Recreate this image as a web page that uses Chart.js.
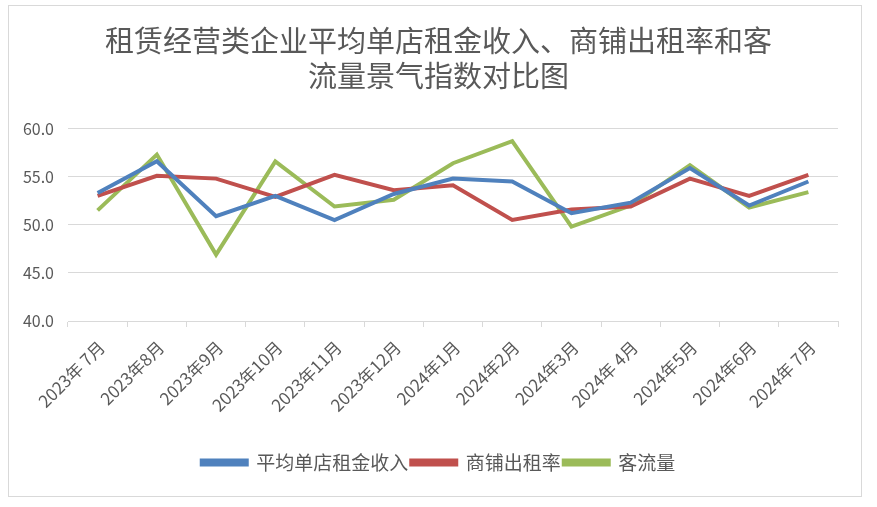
<!DOCTYPE html>
<html><head><meta charset="utf-8">
<script src="https://cdn.jsdelivr.net/npm/chart.js@4/dist/chart.umd.min.js"></script>
<style>html,body{margin:0;padding:0;background:#fff;}#wrap{position:relative;width:877px;height:507px;}</style>
</head><body><div id="wrap"><canvas id="c" width="877" height="507"></canvas></div>
<script>
const categories = ['2023年 7月','2023年8月','2023年9月','2023年10月','2023年11月','2023年12月','2024年1月','2024年2月','2024年3月','2024年 4月','2024年5月','2024年6月','2024年 7月'];
const rentIncome = [53.3,56.6,50.9,53.0,50.5,53.2,54.8,54.5,51.2,52.3,55.9,52.0,54.5];
const occupancy  = [53.0,55.1,54.8,52.9,55.2,53.6,54.1,50.5,51.6,51.9,54.8,53.0,55.2];
const traffic    = [51.5,57.3,46.9,56.6,51.9,52.6,56.4,58.7,49.8,52.0,56.2,51.8,53.4];
const seriesNames = ['平均单店租金收入','商铺出租率','客流量'];
const titleLines = ['租赁经营类企业平均单店租金收入、商铺出租率和客','流量景气指数对比图'];

const FONT = '"Noto Sans CJK SC","Noto Sans",sans-serif';
const frame = {
  id:'frame',
  beforeDraw(chart){const c=chart.ctx;c.save();c.fillStyle='#fff';c.fillRect(0,0,chart.width,chart.height);c.restore();},
  afterDraw(chart){const c=chart.ctx;c.save();c.strokeStyle='#D9D9D9';c.lineWidth=1;c.strokeRect(8.5,5.5,853,491);c.restore();}
};
function ds(label,data,color){return {label,data,borderColor:color,backgroundColor:color,borderWidth:4,pointRadius:0,tension:0,fill:false,yAxisID:'y'};}
new Chart(document.getElementById('c'),{
  type:'line',
  data:{labels:categories,datasets:[ds(seriesNames[0],rentIncome,'#4F81BD'),ds(seriesNames[1],occupancy,'#C0504D'),ds(seriesNames[2],traffic,'#9BBB59')]},
  options:{
    responsive:false,animation:false,
    layout:{padding:{left:0,right:0,top:0,bottom:25}},
    plugins:{
      title:{display:true,text:titleLines,color:'#595959',font:{family:FONT,size:29,weight:'normal',lineHeight:1.2},padding:{top:24,bottom:35}},
      legend:{position:'bottom',labels:{color:'#595959',font:{family:FONT,size:19},boxWidth:45,boxHeight:4,padding:3}},
      tooltip:{enabled:false}
    },
    scales:{
      x:{offset:true,
        grid:{offset:true,drawOnChartArea:false,drawTicks:true,tickLength:6,color:'#D9D9D9'},
        border:{display:true,color:'#D9D9D9'},
        ticks:{color:'#595959',font:{family:FONT,size:17},maxRotation:45,minRotation:45,padding:10,labelOffset:4,autoSkip:false},
        afterFit(s){s.height=129;}
      },
      y:{position:'left',min:40,max:60,
        grid:{color:'#D9D9D9',drawTicks:false},
        border:{display:false},
        ticks:{stepSize:5,color:'#595959',font:{family:FONT,size:16},padding:14,callback:v=>v.toFixed(1)},
        afterFit(s){s.width=68;}
      },
      spacer:{type:'linear',position:'right',display:true,
        grid:{display:false,drawTicks:false},border:{display:false},ticks:{display:false},
        afterFit(s){s.width=39;}
      }
    }
  },
  plugins:[frame]
});
</script></body></html>
